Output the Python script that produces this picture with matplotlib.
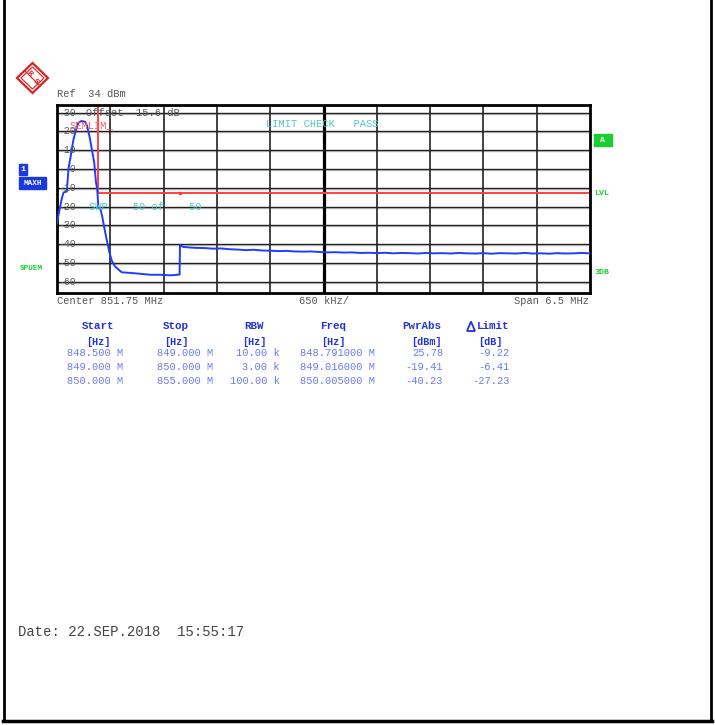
import numpy as np
import matplotlib.pyplot as plt
from matplotlib.patches import Rectangle, Polygon
from matplotlib.transforms import blended_transform_factory

W, H = 715, 725

# max hold trace, frequency in MHz, level in dBm
trace_f = [848.50, 848.51, 848.53, 848.56, 848.58, 848.62, 848.64, 848.67, 848.70,
           848.74, 848.76, 848.80, 848.845, 848.866, 848.90, 848.927, 848.955,
           848.975, 848.99, 849.005, 849.03, 849.05, 849.08, 849.11, 849.14, 849.17,
           849.21, 849.25, 849.29, 849.39, 849.52, 849.64, 849.76, 849.88, 849.995,
           850.0, 850.04, 850.125,
           850.2, 850.3, 850.4, 850.5, 850.6, 850.7, 850.8, 850.9, 851.0, 851.1,
           851.2, 851.3, 851.4, 851.5, 851.6, 851.7, 851.8, 851.9, 852.0, 852.1,
           852.2, 852.3, 852.4, 852.5, 852.6, 852.7, 852.8, 852.9, 853.0, 853.1,
           853.2, 853.3, 853.4, 853.5, 853.6, 853.7, 853.8, 853.9, 854.0, 854.1,
           854.2, 854.3, 854.4, 854.5, 854.6, 854.7, 854.8, 854.9, 855.0]
trace_db = [-29, -26, -22, -15.5, -12.5, -12, 0, 7.5, 15.5,
            22, 24.5, 25.5, 25, 23, 16.5, 10, 3,
            -7, -10.5, -20.5, -21.5, -25, -32, -38.5, -44.5, -49,
            -52, -53.5, -55, -55.3, -55.8, -56.3, -56.3, -56.6, -56.2,
            -40.6, -41.5, -41.8,
            -42.0, -42.1, -42.4, -42.3, -42.7, -42.9, -43.2, -43.0, -43.4, -43.5,
            -43.7, -43.6, -43.9, -44.0, -43.9, -44.2, -44.4, -44.3, -44.5, -44.4,
            -44.7, -44.6, -44.8, -44.6, -44.9, -44.7, -44.8, -45.0, -44.7, -44.9,
            -44.8, -45.0, -44.7, -44.9, -45.0, -44.8, -45.1, -44.8, -44.9, -45.0,
            -44.7, -45.0, -44.9, -45.1, -44.8, -45.0, -44.9, -44.7, -44.9]

# spectrum emission limit line
limit_f = [848.5, 849.0, 849.0, 850.0, 855.0]
limit_db = [40, 40, -13, -13, -13]

ref_level = 34
db_per_div = 10
center_mhz = 851.75
span_mhz = 6.5
ytick_vals = [30, 20, 10, 0, -10, -20, -30, -40, -50, -60]

table_headers = ["Start", "Stop", "RBW", "Freq", "PwrAbs", "Limit"]
table_units = ["[Hz]", "[Hz]", "[Hz]", "[Hz]", "[dBm]", "[dB]"]
start_col = ["848.500 M", "849.000 M", "850.000 M"]
stop_col = ["849.000 M", "850.000 M", "855.000 M"]
rbw_col = ["10.00 k", "3.00 k", "100.00 k"]
freq_col = ["848.791000 M", "849.016000 M", "850.005000 M"]
pwr_col = ["25.78", "-19.41", "-40.23"]
lim_col = ["-9.22", "-6.41", "-27.23"]

MONO = "Liberation Mono"
GRAY = "#555555"
TEAL = "#4cc8c8"
GREEN = "#18d030"
BLUE = "#1a3ae0"

fig = plt.figure(figsize=(W / 100, H / 100), dpi=100)
fig.patch.set_facecolor("white")

# main spectrum screen
ax = fig.add_axes([57 / W, 1 - 293 / H, (590 - 57) / W, (293 - 105) / H])
f0 = center_mhz - span_mhz / 2
f1 = center_mhz + span_mhz / 2
ax.set_xlim(f0, f1)
ax.set_ylim(ref_level - 10 * db_per_div, ref_level)
ax.set_xticks([])
ax.set_yticks([])
for s in ax.spines.values():
    s.set_linewidth(2)
    s.set_color("black")

step = span_mhz / 10
for k in range(1, 10):
    fx = f0 + k * step
    if k == 5:
        ax.axvline(fx, color="black", lw=2.3, zorder=1)
    else:
        ax.axvline(fx, color="#333333", lw=1.3, zorder=1)
for v in ytick_vals:
    ax.axhline(v, color="#222222", lw=1.0, zorder=1)
    ax.axhline(v - 0.6, color="#c8c8c8", lw=1.0, zorder=0.9)

ax.plot(limit_f, limit_db, color="#ff4040", lw=1.4, zorder=2)
ax.plot(limit_f[3], limit_db[3], marker="s", ms=2, color="#ff4040", zorder=2)
ax.plot(trace_f, trace_db, color="#1f3cff", lw=1.4, zorder=3)

yt = blended_transform_factory(ax.transAxes, ax.transData)
for v in ytick_vals:
    ax.text(0.002, v, f"{v:3d}", transform=yt, ha="left", va="center",
            family=MONO, fontsize=7, color=GRAY, zorder=4)

# overlay in pixel coordinates for the instrument annotations
ov = fig.add_axes([0, 0, 1, 1])
ov.set_xlim(0, W)
ov.set_ylim(H, 0)
ov.axis("off")
ov.patch.set_visible(False)
ov.set_zorder(10)

def txt(x, y, s, **kw):
    kw.setdefault("family", MONO)
    kw.setdefault("fontsize", 7.5)
    kw.setdefault("color", GRAY)
    kw.setdefault("va", "center")
    kw.setdefault("ha", "left")
    ov.text(x, y, s, **kw)

# page border
ov.plot([4, 4], [0, 721], color="black", lw=2)
ov.plot([711, 711], [0, 721], color="black", lw=2)
ov.plot([3, 712], [720.5, 720.5], color="black", lw=2.5)

# R&S logo
ov.add_patch(Polygon([(32.5, 63), (48, 78), (32.5, 93), (17, 78)], closed=True,
                     fill=False, ec="#dd2222", lw=1.6))
ov.add_patch(Polygon([(32.5, 67), (44, 78), (32.5, 89), (21, 78)], closed=True,
                     fill=False, ec="#dd2222", lw=0.8))
ov.plot([25, 40], [71, 86], color="#dd2222", lw=0.8)
txt(29, 74, "R", color="#dd2222", fontsize=6, weight="bold", ha="center", rotation=-45)
txt(36, 82, "S", color="#dd2222", fontsize=6, weight="bold", ha="center", rotation=-45)

txt(57, 94, "Ref  34 dBm")
txt(86, 112.5, "Offset  15.6 dB")
txt(70, 125, "SEMLIM_", color="#ff5a5a")
txt(266, 124, "LIMIT CHECK   PASS", color=TEAL)
txt(89, 207, "SWP    50 of    50", color=TEAL)

txt(57, 301, "Center 851.75 MHz")
txt(299, 301, "650 kHz/")
txt(589, 301, "Span 6.5 MHz", ha="right")

# side labels
ov.add_patch(Rectangle((594, 134), 18, 12, color=GREEN))
txt(603, 140.5, "A", color="white", fontsize=6, weight="bold", ha="center")
txt(594, 193, "LVL", color=GREEN, fontsize=6, weight="bold")
txt(595, 272, "3DB", color=GREEN, fontsize=6, weight="bold")

ov.add_patch(Rectangle((19, 164), 8, 11, color=BLUE))
txt(23, 169.5, "1", color="white", fontsize=6, weight="bold", ha="center")
ov.add_patch(Rectangle((19, 177), 27, 12, color=BLUE))
txt(32.5, 183, "MAXH", color="white", fontsize=5.5, weight="bold", ha="center")
txt(20, 268, "SPUEM", color=GREEN, fontsize=5.5, weight="bold")

# result table
hdr_x = [98.5, 176, 254, 333, 422, 477]
unit_x = [98.5, 176, 254, 333, 426, 490]
col_right = [123, 213, 280, 375, 443, 510]
row_y = [353, 367, 381]
for i, h in enumerate(table_headers):
    ha = "left" if h == "Limit" else "center"
    txt(hdr_x[i], 326, h, color="#2233dd", fontsize=7.8, weight="bold", ha=ha)
    txt(unit_x[i], 341.5, table_units[i], color="#2233dd", fontsize=7.3,
        weight="bold", ha="center")
ov.add_patch(Polygon([(467, 331), (475, 331), (471, 321.5)], closed=True,
                     fill=False, ec="#2233dd", lw=1.3))
for c, col in enumerate([start_col, stop_col, rbw_col, freq_col, pwr_col, lim_col]):
    for r, s in enumerate(col):
        txt(col_right[c], row_y[r], s, color="#6a7cf0", ha="right")

txt(18, 632, "Date: 22.SEP.2018  15:55:17", fontsize=10, color="#444444")

fig.savefig("out.png", dpi=100)
